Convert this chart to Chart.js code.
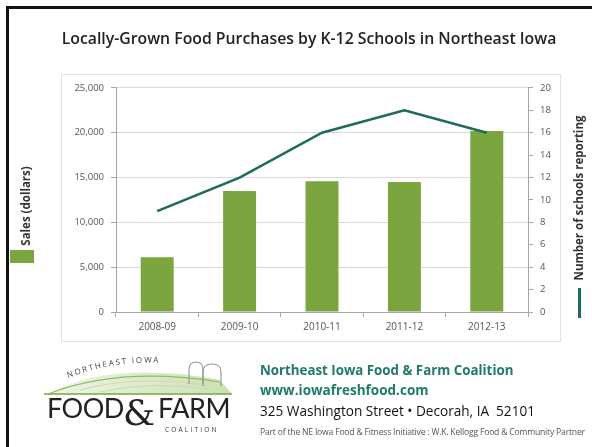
<!DOCTYPE html>
<html lang="en">
  <head>
    <meta charset="utf-8" />
    <title>Locally-Grown Food Purchases</title>
    <script src="https://cdn.jsdelivr.net/npm/chart.js"></script>
    <style>
      html, body { margin: 0; padding: 0; background: #fff; }
      body { width: 592px; height: 447px; position: relative; overflow: hidden; font-family: 'Open Sans', sans-serif; }
      #wrap { position: absolute; left: 0; top: 0; width: 592px; height: 447px; }
      #frame { position: absolute; left: 6px; top: 6px; width: 620px; height: 480px; border: 3px solid #111; }
      .ft { position: absolute; left: 260px; white-space: nowrap; }
      #org { top: 361px; color: #1f7a68; font-weight: 700; font-size: 13.3px; }
      #web { top: 381px; color: #1f7a68; font-weight: 700; font-size: 13.5px; }
      #addr { top: 401px; color: #111; font-size: 13.6px; }
      #part { top: 426px; color: #555; font-size: 8.6px; letter-spacing: -0.2px; }
      #logo { position: absolute; left: 40px; top: 350px; }
    </style>
  </head>
  <body>
    <div id="frame"></div>
    <div id="wrap"><canvas id="myChart" width="592" height="447"></canvas></div>

    <svg id="logo" width="200" height="90" viewBox="0 0 200 90">
      <defs>
        <path id="arc" d="M28 28 Q80 8 135 14" />
        <linearGradient id="hill" x1="0" x2="1">
          <stop offset="0" stop-color="#e3eed4" />
          <stop offset="1" stop-color="#a9cb80" />
        </linearGradient>
      </defs>
      <path d="M8 44 Q70 10 180 30 L192 44 Z" fill="url(#hill)" opacity="0.6" />
      <path d="M8 44 Q80 16 180 32" fill="none" stroke="#8fbd5e" stroke-width="1.2" />
      <path d="M40 40 Q100 24 170 36" fill="none" stroke="#c8dcb0" stroke-width="1" />
      <path d="M60 42 Q110 30 175 40" fill="none" stroke="#c8dcb0" stroke-width="1" />
      <line x1="4" y1="44" x2="192" y2="44" stroke="#7aa53f" stroke-width="1.5" />
      <path d="M149 34 V20 Q149 12 156 12 Q163 12 163 20 V34" fill="none" stroke="#999" stroke-width="1.2" />
      <path d="M163 36 V22 Q163 14 172 14 Q181 14 181 22 V36" fill="none" stroke="#999" stroke-width="1.2" />
      <text font-family="'Open Sans', sans-serif" font-size="8" letter-spacing="1.8" fill="#444">
        <textPath href="#arc">NORTHEAST IOWA</textPath>
      </text>
      <text x="7" y="68" font-family="Lato, sans-serif" font-size="27" fill="#222" letter-spacing="-0.5">FOOD</text>
      <text x="83" y="75" font-family="'DejaVu Serif', serif" font-size="36" fill="#222">&amp;</text>
      <text x="118" y="68" font-family="Lato, sans-serif" font-size="27" fill="#222" letter-spacing="-0.5">FARM</text>
      <text x="125" y="82" font-family="'Open Sans', sans-serif" font-size="6.5" letter-spacing="2.2" fill="#333">COALITION</text>
    </svg>

    <div class="ft" id="org">Northeast Iowa Food &amp; Farm Coalition</div>
    <div class="ft" id="web">www.iowafreshfood.com</div>
    <div class="ft" id="addr">325 Washington Street &bull; Decorah, IA&nbsp; 52101</div>
    <div class="ft" id="part">Part of the NE Iowa Food &amp; Fitness Initiative : W.K. Kellogg Food &amp; Community Partner</div>

    <script>
      // values
      const seasons = ['2008-09', '2009-10', '2010-11', '2011-12', '2012-13']
      const sales = [6100, 13500, 14600, 14500, 20200]
      const schools = [9, 12, 16, 18, 16]

      const green = '#7aa53f'
      const teal = '#1c6b5c'
      const tickFont = { family: "'Open Sans', sans-serif", size: 9.5 }

      // box, and the two side "legends"
      const decor = {
        id: 'decor',
        beforeDraw(chart) {
          const ctx = chart.ctx
          ctx.save()
          ctx.strokeStyle = '#e2e2e2'
          ctx.lineWidth = 1
          ctx.strokeRect(61.5, 74.5, 499, 267)
          ctx.restore()
        },
        afterDraw(chart) {
          const ctx = chart.ctx
          ctx.save()
          ctx.fillStyle = '#333'
          ctx.font = "bold 11.5px 'Open Sans', sans-serif"
          ctx.textAlign = 'center'
          ctx.textBaseline = 'middle'

          ctx.save()
          ctx.translate(27, 206)
          ctx.rotate(-Math.PI / 2)
          ctx.fillText('Sales (dollars)', 0, 0)
          ctx.restore()
          ctx.fillStyle = green
          ctx.fillRect(10, 250, 24, 13)

          ctx.fillStyle = '#333'
          ctx.save()
          ctx.translate(580, 198)
          ctx.rotate(-Math.PI / 2)
          ctx.fillText('Number of schools reporting', 0, 0)
          ctx.restore()
          ctx.strokeStyle = teal
          ctx.lineWidth = 3
          ctx.beginPath()
          ctx.moveTo(579.5, 288)
          ctx.lineTo(579.5, 318)
          ctx.stroke()
          ctx.restore()
        },
      }

      const data = {
        labels: seasons,
        datasets: [
          {
            type: 'line',
            label: 'Number of schools reporting',
            data: schools,
            yAxisID: 'y2',
            borderColor: teal,
            borderWidth: 2.5,
            pointRadius: 0,
            tension: 0,
            order: 0,
          },
          {
            type: 'bar',
            label: 'Sales (dollars)',
            data: sales,
            yAxisID: 'y',
            backgroundColor: green,
            barPercentage: 0.4,
            categoryPercentage: 1,
            order: 1,
          },
        ],
      }

      const config = {
        data: data,
        plugins: [decor],
        options: {
          responsive: false,
          animation: false,
          layout: { padding: { left: 26, right: 0, top: 0, bottom: 105 } },
          plugins: {
            legend: { display: false },
            tooltip: { enabled: false },
            title: {
              display: true,
              text: 'Locally-Grown Food Purchases by K-12 Schools in Northeast Iowa',
              color: '#222',
              font: { family: "'Open Sans', sans-serif", size: 15.8, weight: '600' },
              padding: { top: 30, bottom: 39 },
            },
          },
          scales: {
            x: {
              grid: { offset: true, drawOnChartArea: false, tickLength: 5, color: '#a6a6a6' },
              border: { color: '#a6a6a6' },
              ticks: { font: { family: "'Open Sans', sans-serif", size: 10 }, color: '#555', padding: 4 },
              afterFit(scale) { scale.height = 30 },
            },
            y: {
              position: 'left',
              min: 0,
              max: 25000,
              grid: { color: '#d9d9d9', tickColor: '#a6a6a6', tickLength: 5 },
              border: { color: '#a6a6a6' },
              ticks: {
                stepSize: 5000,
                font: tickFont,
                color: '#555',
                padding: 7,
                callback: (v) => v.toLocaleString('en-US'),
              },
              afterFit(scale) { scale.width = 90 },
            },
            y2: {
              position: 'right',
              min: 0,
              max: 20,
              grid: { drawOnChartArea: false, color: '#a6a6a6', tickLength: 5 },
              border: { color: '#a6a6a6' },
              ticks: { stepSize: 2, font: tickFont, color: '#555', padding: 7 },
              afterFit(scale) { scale.width = 64 },
            },
          },
        },
      }

      var myChart = new Chart(document.getElementById('myChart'), config)
    </script>
  </body>
</html>
